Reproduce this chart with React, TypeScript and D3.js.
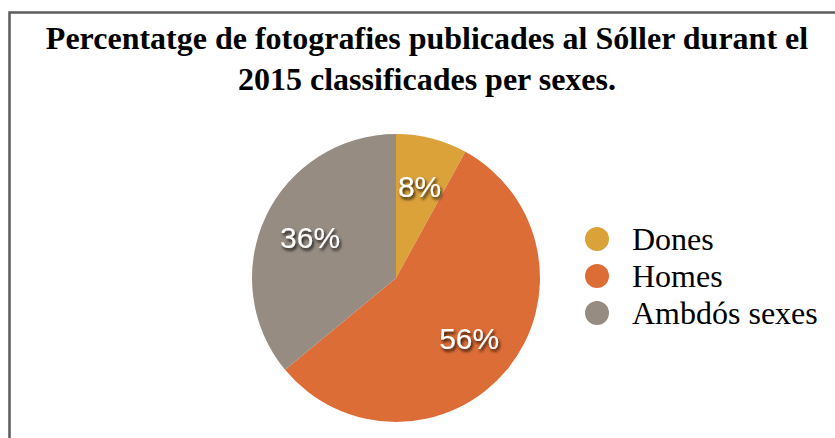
import React from "react";
import * as d3 from "d3";

const categories = ["Dones", "Homes", "Ambdós sexes"];
const values = [8, 56, 36];
const colors = ["#dca23a", "#dd6d37", "#968c82"];
const titleLines = [
  "Percentatge de fotografies publicades al Sóller durant el",
  "2015 classificades per sexes.",
];

const width = 835;
const height = 438;

export default function App() {
  const cx = 396;
  const cy = 278;
  const radius = 144;

  const pie = d3
    .pie<number>()
    .sort(null)
    .value((d) => d);
  const arcs = pie(values);

  const arc = d3.arc<d3.PieArcDatum<number>>().innerRadius(0).outerRadius(radius);
  const labelArc = d3
    .arc<d3.PieArcDatum<number>>()
    .innerRadius(95)
    .outerRadius(95);

  const legendY = d3
    .scalePoint<string>()
    .domain(categories)
    .range([239, 313]);

  return (
    <div style={{ position: "absolute", left: 0, top: 0 }}>
      <svg width={width} height={height} style={{ display: "block" }}>
        <defs>
          <filter id="shadow" x="-20%" y="-20%" width="150%" height="150%">
            <feDropShadow dx="1.5" dy="2.5" stdDeviation="1.6" floodColor="#000" floodOpacity="0.85" />
          </filter>
        </defs>
        <rect width={width} height={height} fill="#fff" />
        {/* frame */}
        <path d={`M9.5,${height} V12.5 H${width}`} fill="none" stroke="#5c5c5c" strokeWidth={2.5} />

        {titleLines.map((t, i) => (
          <text
            key={i}
            x={427}
            y={49 + i * 41}
            textAnchor="middle"
            fontFamily="'Liberation Serif', 'Times New Roman', serif"
            fontWeight="bold"
            fontSize={32}
            fill="#000"
          >
            {t}
          </text>
        ))}

        <g transform={`translate(${cx},${cy})`}>
          {arcs.map((a, i) => (
            <path key={i} d={arc(a) || ""} fill={colors[i]} />
          ))}
          {arcs.map((a, i) => {
            const [x, y] = labelArc.centroid(a);
            return (
              <text
                key={"l" + i}
                x={x}
                y={y}
                dy="0.36em"
                textAnchor="middle"
                fontFamily="'Liberation Sans', Arial, sans-serif"
                fontSize={30}
                fill="#fff"
                filter="url(#shadow)"
              >
                {Math.round(values[i]) + "%"}
              </text>
            );
          })}
        </g>

        {categories.map((c, i) => (
          <g key={c} transform={`translate(597,${legendY(c)})`}>
            <circle r={12} fill={colors[i]} />
            <text
              x={35}
              y={11}
              fontFamily="'Liberation Serif', 'Times New Roman', serif"
              fontSize={32}
              fill="#000"
            >
              {c}
            </text>
          </g>
        ))}
      </svg>
    </div>
  );
}
